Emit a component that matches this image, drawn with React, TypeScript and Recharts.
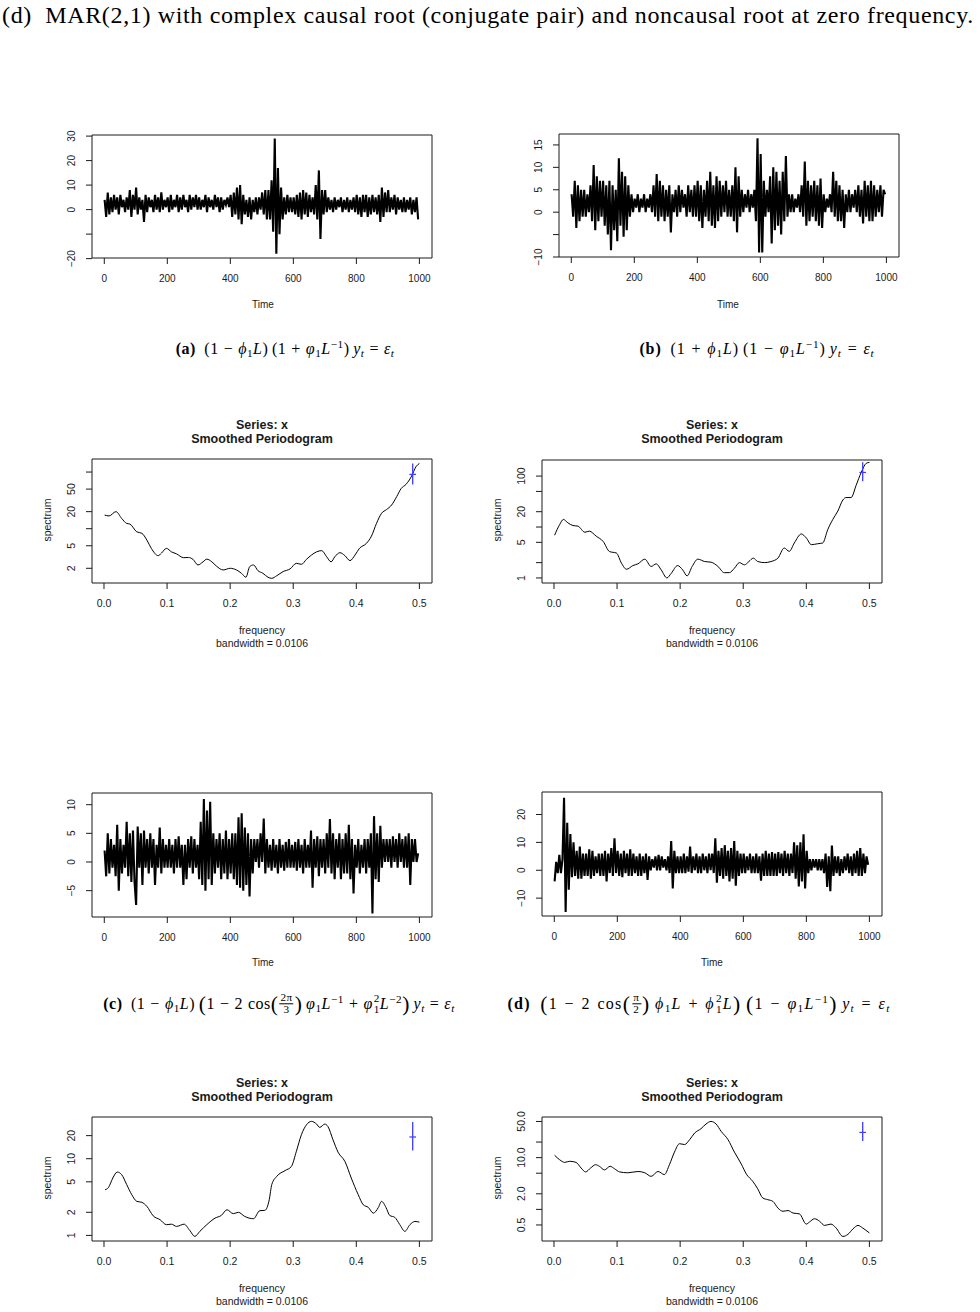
import React from 'react';
import { LineChart, Line, XAxis, YAxis, ReferenceArea, ReferenceLine } from 'recharts';

// ---- simulated paths, one value every STEP time units starting at t = 1 ----
const STEP = 5;

const seriesA = [
  4, -3, 7, -2, 5, -1, 6, 0, 5, -2, 6, 1, 4, -1, 5, 0, 8, -3, 6, 0,
  9, -2, 5, 0, 4, -5, 6, -1, 5, 1, 4, -1, 6, 0, 5, -1, 7, 0, 4, 1,
  5, -1, 6, 0, 4, 1, 6, -1, 5, 0, 6, 1, 4, -1, 6, 0, 5, 1, 6, 0,
  5, 0, 4, 1, 6, -1, 5, 1, 4, 0, 6, 1, 5, -1, 5, 0, 4, 2, 5, 1,
  6, -3, 7, -2, 9, -4, 10, -6, 6, -2, 4, -3, 5, -4, 4, -1, 5, -2, 5, 0,
  7, -2, 8, -4, 8, -4, 12, -9, 29, -18, 17, -10, 9, -4, 5, -2, 6, -1, 5, -1,
  5, -2, 6, -3, 7, -4, 8, -2, 7, -3, 6, -1, 5, -2, 10, -4, 16, -12, 8, -2,
  8, -1, 5, 0, 4, -1, 5, 0, 4, 1, 5, -1, 4, 0, 5, -1, 4, 0, 5, -1,
  6, -2, 5, -3, 6, -1, 6, -3, 5, -2, 6, -1, 5, -2, 6, -5, 9, -3, 7, -1,
  8, -1, 5, 0, 6, -2, 5, 0, 4, -1, 5, -1, 4, 0, 5, -2, 4, -1, 5, -4,
];

const seriesB = [
  4, -1, 7, -3.5, 6, -2, 5, -1, 5, -1, 4, 0, 6, -2, 10.5, -4, 8, -2, 7, -1,
  7, -3, 6, -5, 7, -8.5, 6, -4, 5, -6.5, 12, -3, 9, -5.5, 8, -4, 6, -1, 4, 0,
  3, 1, 4, 0, 3, 1, 4, 0, 3, 1, 4, 0, 6, -1, 8.5, -2, 7, -1, 6, -2,
  5, -1, 6, -4.5, 4, 0, 5, -1, 6, 0, 5, 1, 4, -1, 6, 0, 5, -1, 6, -1,
  7, -2, 6, -3.5, 5, -1, 7, -2, 9, -3, 6, -3.5, 8, -2, 7, -1, 6, 0, 7, -1,
  5, -1, 6, -2, 10, -4.5, 8, -1, 5, 0, 4, 1, 5, 0, 4, 1, 5, -2, 16.5, -9,
  13, -9, 7, -1, 5, 0, 8, -7, 10, -4, 9, -3, 7, -5, 9, -2, 12.5, -1, 4, 0,
  4, 0, 3, 1, 4, 0, 6, -1, 11.3, -3, 7, -2, 6, -1, 7, -2, 6, -3, 7.5, -3.5,
  4, 0, 3, 1, 4, 0, 9, -1, 7, -2, 6, -2, 5, -3.5, 4, 0, 5, 0, 4, 1,
  5, 0, 6, -1, 5, -2.5, 7, -1, 6, -2, 7, -2, 6, -1, 5, 0, 6, -1, 5, 4,
];

const seriesC = [
  2, -2.5, 5, -2, 4, -1, 3, -2.5, 6.5, -5, 4, -2, 3, -1, 7, -2.5, 5, -3.5, 5.5, -3.5,
  -7.5, 6.2, -1, 5, -4, 5.5, -1, 4, -2, 5, -1, 4, -4, 3, -1, 6, -2, 4, -1, 3,
  -1, 4, -1, 3, -2, 4, -1, 4.5, -1, 3, -4, 3, -3, 4, -1, 4.5, -2, 4, -1, 3,
  -3, 7, -4, 11, -5, 9, -3, 10.5, -4, 5, -2, 4, -1, 5, -3, 4, -2, 5.5, -3, 4,
  -2, 5, -3, 5, -4, 7.8, -4.5, 8.5, -5, 6, -4, 5, -6, 4, -2, 4, 0, 4, -1, 5,
  0, 7.6, -2, 4, -1, 3, -1.5, 4, -1, 3, -2, 4, -1, 3, -1.5, 3.5, -1, 4, -1, 3,
  -1, 3.5, -1.5, 4, -1, 3, -2, 4, -1, 3, -1, 5.5, -4.5, 4, -1, 4.5, -2.5, 4, -1, 4,
  -2, 5, -1, 7.5, -2, 5, -3, 4, -1, 5, -3, 4, -2, 5, -2, 6.5, -3, 4, -5.5, 3,
  -1, 4, -2, 3, -1, 4, -2, 4, -1, 5, -9, 8, -3, 5, -3.5, 6.3, -1, 4, 0, 4,
  0, 4, -1, 4.5, 0, 4, -1, 5, 0, 4, -1, 4.5, -1, 5, -4, 4, 0, 4, 0, 1.5,
];

const seriesD = [
  -4, 3, -1, 5.5, -1, 4, 26, -15, 17, -7, 13, -2.5, 10, -2, 7, -3, 8.5, -3, 6, -2,
  6, -2, 7.5, -3, 7, -2, 5, -1, 6, -2, 6, -2, 7, -4, 6, -1, 8, -2, 11.5, -1,
  7, -2, 6, -2.5, 7, -1, 6, -2, 7.5, -2, 6, -1, 5, -2, 6, -2, 5, -1, 6, -3.5,
  5, 0, 4, 1, 5, 0, 5.5, 0, 5, 1, 4, 0, 5, -1, 10.5, -6.5, 7, -1, 5, -1,
  5, -1, 6, -1, 5, -0.5, 8.5, -1, 5, 0, 6, -1, 5, -1, 6, 0, 5, -1, 6, 0,
  6, -1, 11.5, -4.5, 7, -2, 8, -3, 9, -2, 7, -4, 8, -3, 10.5, -5.5, 7, -2, 6, -1,
  6, -1, 5, 0, 6, -1, 5, -1, 6, -1, 5, -3.7, 6, -2, 7, -2, 6, -2, 6.5, -2,
  6, -2, 6.5, -1, 6, -2, 7, -1, 6, -2, 6, -1, 10, -3, 9, -5.8, 10, -4, 12.9, -6.5,
  7, -1, 4, 0, 4, 1, 4, 0, 4, 0, 4, -1, 6, -6, 5, -7.5, 8.9, -2, 5, -1,
  5, -2, 4, -1, 5, 0, 6, -1, 5, -2, 6, -1, 7, -2, 8, -2, 6, -1, 5, 2,
];

// ---- smoothed periodograms ----
const freqA = [
  0.001, 0.008, 0.019, 0.028, 0.036, 0.041, 0.052, 0.06, 0.068, 0.075,
  0.086, 0.091, 0.099, 0.107, 0.115, 0.126, 0.134, 0.141, 0.149, 0.157,
  0.163, 0.171, 0.178, 0.189, 0.2, 0.21, 0.218, 0.225, 0.231, 0.237,
  0.244, 0.252, 0.26, 0.266, 0.274, 0.284, 0.295, 0.305, 0.313, 0.321,
  0.329, 0.337, 0.345, 0.353, 0.36, 0.366, 0.374, 0.382, 0.39, 0.398,
  0.405, 0.416, 0.424, 0.432, 0.44, 0.448, 0.456, 0.464, 0.471, 0.479,
  0.487, 0.495, 0.5,
];
const specA = [
  17.4, 16.8, 20, 15.2, 12.4, 12.1, 8.8, 8.3, 6.3, 4.5,
  3.34, 3.7, 4.5, 3.9, 3.6, 3.08, 3.1, 2.88, 2.29, 2.6,
  2.9, 2.6, 2.2, 1.87, 2.0, 1.87, 1.63, 1.39, 2.14, 2.29,
  1.82, 1.63, 1.39, 1.33, 1.48, 1.75, 1.95, 2.45, 2.35, 2.88,
  3.43, 3.9, 4.1, 3.2, 2.6, 3.2, 3.77, 3.34, 2.73, 3.43,
  4.5, 5.5, 7.4, 12.4, 18.7, 21.8, 26.2, 36.8, 51, 61,
  82, 126, 142,
];

const freqB = [
  0.001, 0.009, 0.015, 0.022, 0.03, 0.038, 0.049, 0.056, 0.067, 0.078,
  0.088, 0.099, 0.107, 0.115, 0.125, 0.133, 0.144, 0.154, 0.162, 0.17,
  0.179, 0.186, 0.196, 0.204, 0.211, 0.219, 0.228, 0.239, 0.249, 0.26,
  0.27, 0.278, 0.286, 0.294, 0.302, 0.309, 0.316, 0.323, 0.334, 0.344,
  0.355, 0.365, 0.373, 0.381, 0.392, 0.4, 0.408, 0.418, 0.426, 0.434,
  0.442, 0.45, 0.458, 0.463, 0.471, 0.479, 0.487, 0.495, 0.5,
];
const specB = [
  6.9, 11.2, 14.1, 12.1, 10.7, 10.4, 7.9, 8.3, 6.6, 5.2,
  3.3, 3.08, 1.95, 1.48, 1.75, 1.89, 2.34, 1.68, 1.89, 1.44,
  1.0, 1.24, 1.75, 1.44, 1.1, 1.68, 2.34, 2.1, 2.04, 1.68,
  1.27, 1.27, 1.55, 2.0, 1.81, 2.1, 2.45, 2.1, 2.0, 2.1,
  2.45, 3.87, 3.33, 4.86, 7.3, 6.1, 4.5, 4.7, 4.86, 8.9,
  14.1, 20.6, 34, 37.9, 37.9, 66, 118, 178, 186,
];

const freqC = [
  0.0016, 0.007, 0.014, 0.021, 0.028, 0.036, 0.044, 0.052, 0.06, 0.068,
  0.078, 0.089, 0.099, 0.107, 0.115, 0.127, 0.136, 0.144, 0.152, 0.163,
  0.176, 0.186, 0.195, 0.205, 0.213, 0.223, 0.237, 0.247, 0.255, 0.262,
  0.266, 0.274, 0.287, 0.297, 0.305, 0.313, 0.321, 0.329, 0.337, 0.342,
  0.35, 0.355, 0.363, 0.371, 0.382, 0.392, 0.403, 0.411, 0.419, 0.427,
  0.435, 0.44, 0.447, 0.453, 0.461, 0.469, 0.477, 0.485, 0.493, 0.5,
];
const specC = [
  3.94, 4.2, 5.6, 6.7, 6.2, 4.6, 3.4, 2.78, 2.7, 2.39,
  1.8, 1.6, 1.38, 1.4, 1.31, 1.4, 1.16, 0.97, 1.13, 1.38,
  1.68, 1.82, 2.16, 1.92, 2.0, 1.77, 1.65, 2.1, 2.12, 2.92,
  4.6, 5.9, 7.0, 7.9, 12.5, 20.6, 27.7, 30.7, 28.3, 25.6,
  28.3, 26.3, 17.7, 12.2, 9.2, 5.6, 3.4, 2.51, 2.32, 1.95,
  2.32, 2.78, 2.32, 1.82, 1.72, 1.38, 1.13, 1.38, 1.52, 1.49,
];

const freqD = [
  0.001, 0.009, 0.017, 0.025, 0.035, 0.043, 0.05, 0.058, 0.066, 0.072,
  0.08, 0.089, 0.096, 0.104, 0.117, 0.133, 0.144, 0.154, 0.165, 0.175,
  0.183, 0.191, 0.199, 0.207, 0.215, 0.223, 0.233, 0.241, 0.249, 0.257,
  0.265, 0.276, 0.286, 0.297, 0.305, 0.315, 0.323, 0.331, 0.339, 0.347,
  0.355, 0.363, 0.371, 0.379, 0.389, 0.4, 0.405, 0.413, 0.421, 0.429,
  0.439, 0.447, 0.458, 0.466, 0.474, 0.482, 0.489, 0.5,
];
const specD = [
  11.1, 9.1, 8.1, 8.5, 8.1, 6.3, 5.3, 6.3, 7.3, 6.8,
  5.8, 6.8, 6.1, 5.3, 5.1, 5.4, 5.1, 4.35, 5.4, 4.7,
  7.3, 12.8, 18.6, 17.9, 22.2, 29.9, 36.2, 44.6, 50.1, 44.6,
  32.2, 22.2, 12.8, 7.5, 4.8, 3.5, 2.5, 1.66, 1.54, 1.43,
  1.06, 0.92, 0.95, 0.85, 0.82, 0.52, 0.57, 0.66, 0.59, 0.49,
  0.52, 0.44, 0.3, 0.33, 0.42, 0.49, 0.44, 0.35,
];

// confidence cross (bandwidth wide, 95% interval tall)
const BANDWIDTH = 0.0106;
const ciA = { f: 0.4894, mid: 91, lo: 60, hi: 142 };
const ciB = { f: 0.4894, mid: 118, lo: 79.6, hi: 186 };
const ciC = { f: 0.4894, mid: 19.2, lo: 12.8, hi: 30.1 };
const ciD = { f: 0.4894, mid: 30.7, lo: 20.9, hi: 48.7 };

// ---- ticks ----
const timeTicks = [0, 200, 400, 600, 800, 1000];
const freqTicks = [0, 0.1, 0.2, 0.3, 0.4, 0.5];

const yTicksA = [-20, -10, 0, 10, 20, 30];
const yLabelsA = [-20, 0, 10, 20, 30];
const yTicksB = [-10, -5, 0, 5, 10, 15];
const yLabelsB = [-10, 0, 5, 10, 15];
const yTicksC = [-5, 0, 5, 10];
const yTicksD = [-10, 0, 10, 20];

const sTicksA = [2, 5, 10, 20, 50, 100];
const sLabelsA = [2, 5, 20, 50];
const sTicksB = [1, 2, 5, 10, 20, 50, 100];
const sLabelsB = [1, 5, 20, 100];
const sTicksC = [1, 2, 5, 10, 20];
const sTicksD = [0.5, 1, 2, 5, 10, 20, 50];
const sLabelsD = [0.5, 2, 10, 50];

const TIME_DOMAIN = [-39, 1040];
const FREQ_DOMAIN = [-0.019, 0.52];

// ---- styling ----
const SANS = '"Liberation Sans", Arial, Helvetica, sans-serif';
const SERIF = '"Liberation Serif", "DejaVu Serif", serif';
const INK = '#1a1a1a';
const CI_BLUE = '#3c3cff';
const ML = 60;
const MT = 10;
const MR = 10;
const MB = 40;

type Box = { left: number; top: number; w: number; h: number };

const fmt = (v: number, digits: number) => v.toFixed(digits).replace('-', '\u2212');

function XTick(props: any) {
  const { x, y, payload, digits, size } = props;
  return (
    <g>
      <line x1={x} x2={x} y1={y} y2={y + 6} stroke={INK} />
      <text x={x} y={y + 24} textAnchor="middle" fontSize={size} fontFamily={SANS} fill={INK}>
        {fmt(payload.value, digits)}
      </text>
    </g>
  );
}

function YTick(props: any) {
  const { x, y, payload, labels, digits, size } = props;
  const show = !labels || labels.some((l: number) => Math.abs(l - payload.value) < 1e-9);
  const tx = x - 17;
  return (
    <g>
      <line x1={x} x2={x - 6} y1={y} y2={y} stroke={INK} />
      {show && (
        <text
          x={tx}
          y={y}
          transform={`rotate(-90 ${tx} ${y})`}
          textAnchor="middle"
          fontSize={size}
          fontFamily={SANS}
          fill={INK}
        >
          {fmt(payload.value, digits)}
        </text>
      )}
    </g>
  );
}

function TimePanel(props: {
  box: Box;
  values: number[];
  yDomain: number[];
  yTicks: number[];
  yLabels?: number[];
}) {
  const { box, values, yDomain, yTicks, yLabels } = props;
  const data = values.map((v, i) => ({ t: 1 + i * STEP, v }));
  return (
    <div style={{ position: 'absolute', left: box.left - ML, top: box.top - MT }}>
      <LineChart
        width={box.w + ML + MR}
        height={box.h + MT + MB}
        data={data}
        margin={{ top: MT, right: MR, bottom: 0, left: 0 }}
      >
        <XAxis
          type="number"
          dataKey="t"
          domain={TIME_DOMAIN}
          allowDataOverflow
          ticks={timeTicks}
          interval={0}
          axisLine={false}
          tickLine={false}
          tickSize={0}
          tickMargin={0}
          height={MB}
          tick={(p: any) => <XTick {...p} digits={0} size={10} />}
        />
        <YAxis
          type="number"
          domain={yDomain}
          allowDataOverflow
          ticks={yTicks}
          interval={0}
          axisLine={false}
          tickLine={false}
          tickSize={0}
          tickMargin={0}
          width={ML}
          tick={(p: any) => <YTick {...p} labels={yLabels} digits={0} size={10} />}
        />
        <Line dataKey="v" type="linear" stroke="#000" strokeWidth={2.1} strokeLinejoin="miter" dot={false} isAnimationActive={false} />
        <ReferenceArea
          x1={TIME_DOMAIN[0]}
          x2={TIME_DOMAIN[1]}
          y1={yDomain[0]}
          y2={yDomain[1]}
          fill="none"
          stroke={INK}
          strokeWidth={1}
          ifOverflow="visible"
        />
      </LineChart>
    </div>
  );
}

function SpecPanel(props: {
  box: Box;
  freq: number[];
  spec: number[];
  yDomain: number[];
  yTicks: number[];
  yLabels?: number[];
  yDigits: number;
  ci: { f: number; mid: number; lo: number; hi: number };
}) {
  const { box, freq, spec, yDomain, yTicks, yLabels, yDigits, ci } = props;
  const data = freq.map((f, i) => ({ f, s: spec[i] }));
  return (
    <div style={{ position: 'absolute', left: box.left - ML, top: box.top - MT }}>
      <LineChart
        width={box.w + ML + MR}
        height={box.h + MT + MB}
        data={data}
        margin={{ top: MT, right: MR, bottom: 0, left: 0 }}
      >
        <XAxis
          type="number"
          dataKey="f"
          domain={FREQ_DOMAIN}
          allowDataOverflow
          ticks={freqTicks}
          interval={0}
          axisLine={false}
          tickLine={false}
          tickSize={0}
          tickMargin={0}
          height={MB}
          tick={(p: any) => <XTick {...p} digits={1} size={10.5} />}
        />
        <YAxis
          type="number"
          scale="log"
          domain={yDomain}
          allowDataOverflow
          ticks={yTicks}
          interval={0}
          axisLine={false}
          tickLine={false}
          tickSize={0}
          tickMargin={0}
          width={ML}
          tick={(p: any) => <YTick {...p} labels={yLabels} digits={yDigits} size={10.5} />}
        />
        <Line dataKey="s" type="monotone" stroke="#000" strokeWidth={1} dot={false} isAnimationActive={false} />
        <ReferenceLine
          segment={[{ x: ci.f, y: ci.lo }, { x: ci.f, y: ci.hi }]}
          stroke={CI_BLUE}
          strokeWidth={1.3}
        />
        <ReferenceLine
          segment={[{ x: ci.f - BANDWIDTH / 2, y: ci.mid }, { x: ci.f + BANDWIDTH / 2, y: ci.mid }]}
          stroke={CI_BLUE}
          strokeWidth={1.2}
        />
        <ReferenceArea
          x1={FREQ_DOMAIN[0]}
          x2={FREQ_DOMAIN[1]}
          y1={yDomain[0]}
          y2={yDomain[1]}
          fill="none"
          stroke={INK}
          strokeWidth={1}
          ifOverflow="visible"
        />
      </LineChart>
    </div>
  );
}

function Txt(props: { x: number; y: number; size: number; bold?: boolean; rotate?: boolean; children: React.ReactNode }) {
  const { x, y, size, bold, rotate, children } = props;
  return (
    <div
      style={{
        position: 'absolute',
        left: x,
        top: y,
        transform: `translate(-50%, -50%)${rotate ? ' rotate(-90deg)' : ''}`,
        fontFamily: SANS,
        fontSize: size,
        fontWeight: bold ? 700 : 400,
        color: INK,
        whiteSpace: 'nowrap',
        lineHeight: 1,
      }}
    >
      {children}
    </div>
  );
}

function SpecText({ cx, bx, top }: { cx: number; bx: number; top: number }) {
  // titles above the box, axis captions below it
  return (
    <>
      <Txt x={cx} y={top - 34} size={12.5} bold>Series: x</Txt>
      <Txt x={cx} y={top - 20} size={12.5} bold>Smoothed Periodogram</Txt>
      <Txt x={cx} y={top + 171} size={10.5}>frequency</Txt>
      <Txt x={cx} y={top + 184} size={10.5}>bandwidth = 0.0106</Txt>
      <Txt x={bx} y={top + 61} size={10.5} rotate>spectrum</Txt>
    </>
  );
}

const Sub = ({ children }: { children: React.ReactNode }) => (
  <span style={{ fontSize: '0.7em', verticalAlign: '-0.3em', lineHeight: 0 }}>{children}</span>
);
const Sup = ({ children }: { children: React.ReactNode }) => (
  <span style={{ fontSize: '0.7em', verticalAlign: '0.55em', lineHeight: 0 }}>{children}</span>
);
// stacked superscript over subscript (first row sets the baseline)
const SupSub = ({ sup, sub }: { sup: string; sub: string }) => (
  <span
    style={{
      display: 'inline-flex',
      flexDirection: 'column',
      fontSize: '0.7em',
      lineHeight: 0.95,
      verticalAlign: '0.6em',
      marginLeft: 1,
    }}
  >
    <span>{sup}</span>
    <span>{sub}</span>
  </span>
);
const Frac = ({ n, d }: { n: string; d: string }) => (
  <span
    style={{
      display: 'inline-flex',
      flexDirection: 'column',
      alignItems: 'center',
      fontSize: '0.7em',
      lineHeight: 1,
      verticalAlign: '0.7em',
      margin: '0 1px',
    }}
  >
    <span style={{ borderBottom: '1px solid #000', padding: '0 1px' }}>{n}</span>
    <span>{d}</span>
  </span>
);
const Big = ({ c }: { c: string }) => (
  <span style={{ fontSize: '1.35em', verticalAlign: '-0.08em', lineHeight: 0 }}>{c}</span>
);

function Caption({ x, y, spacing = 0.5, children }: { x: number; y: number; spacing?: number; children: React.ReactNode }) {
  return (
    <div
      style={{
        position: 'absolute',
        left: x,
        top: y,
        transform: 'translate(-50%, -50%)',
        fontFamily: SERIF,
        fontSize: 16,
        letterSpacing: spacing,
        wordSpacing: spacing,
        whiteSpace: 'nowrap',
        lineHeight: 1,
        color: '#000',
      }}
    >
      {children}
    </div>
  );
}

const boxTsA: Box = { left: 92, top: 134.5, w: 340, h: 123 };
const boxTsB: Box = { left: 558.5, top: 134, w: 340, h: 123 };
const boxSpA: Box = { left: 92, top: 459, w: 340, h: 124 };
const boxSpB: Box = { left: 542.3, top: 460, w: 340, h: 123 };
const boxTsC: Box = { left: 92, top: 792.5, w: 340, h: 124 };
const boxTsD: Box = { left: 542.3, top: 792, w: 340, h: 124 };
const boxSpC: Box = { left: 92, top: 1117.3, w: 340, h: 124 };
const boxSpD: Box = { left: 542.3, top: 1117.3, w: 340, h: 124 };

export default function App() {
  return (
    <div style={{ position: 'absolute', left: 0, top: 0, width: 980, height: 1312, background: '#fff', overflow: 'hidden' }}>
      <div
        style={{
          position: 'absolute',
          left: 2,
          top: 3,
          fontFamily: SERIF,
          fontSize: 24,
          letterSpacing: 0.65,
          lineHeight: 1,
          whiteSpace: 'nowrap',
          color: '#000',
        }}
      >
        (d)&nbsp; MAR(2,1) with complex causal root (conjugate pair) and noncausal root at zero frequency.
      </div>

      <TimePanel box={boxTsA} values={seriesA} yDomain={[-19.75, 30.45]} yTicks={yTicksA} yLabels={yLabelsA} />
      <TimePanel box={boxTsB} values={seriesB} yDomain={[-10, 17.44]} yTicks={yTicksB} yLabels={yLabelsB} />
      <Txt x={263} y={305} size={10}>Time</Txt>
      <Txt x={728} y={305} size={10}>Time</Txt>

      <Caption x={285} y={349}>
        <b>(a)</b>&ensp;(1 − <i>ϕ</i><Sub>1</Sub><i>L</i>)&thinsp;(1 + <i>φ</i><Sub>1</Sub><i>L</i><Sup>−1</Sup>)&thinsp;<i>y</i><Sub><i>t</i></Sub> = <i>ε</i><Sub><i>t</i></Sub>
      </Caption>
      <Caption x={757} y={349} spacing={0.9}>
        <b>(b)</b>&ensp;(1 + <i>ϕ</i><Sub>1</Sub><i>L</i>)&thinsp;(1 − <i>φ</i><Sub>1</Sub><i>L</i><Sup>−1</Sup>)&thinsp;<i>y</i><Sub><i>t</i></Sub> = <i>ε</i><Sub><i>t</i></Sub>
      </Caption>

      <SpecPanel box={boxSpA} freq={freqA} spec={specA} yDomain={[1.1, 170]} yTicks={sTicksA} yLabels={sLabelsA} yDigits={0} ci={ciA} />
      <SpecPanel box={boxSpB} freq={freqB} spec={specB} yDomain={[0.796, 207]} yTicks={sTicksB} yLabels={sLabelsB} yDigits={0} ci={ciB} />
      <SpecText cx={262} bx={47} top={459} />
      <SpecText cx={712} bx={497} top={459} />

      <TimePanel box={boxTsC} values={seriesC} yDomain={[-9.6, 12.04]} yTicks={yTicksC} />
      <TimePanel box={boxTsD} values={seriesD} yDomain={[-16.4, 28.07]} yTicks={yTicksD} />
      <Txt x={263} y={963} size={10}>Time</Txt>
      <Txt x={712} y={963} size={10}>Time</Txt>

      <Caption x={279} y={1004}>
        <b>(c)</b>&ensp;(1 − <i>ϕ</i><Sub>1</Sub><i>L</i>)&thinsp;<Big c="(" />1 − 2 cos<Big c="(" /><Frac n="2π" d="3" /><Big c=")" />&thinsp;<i>φ</i><Sub>1</Sub><i>L</i><Sup>−1</Sup> + <i>φ</i><SupSub sup="2" sub="1" /><i>L</i><Sup>−2</Sup><Big c=")" />&thinsp;<i>y</i><Sub><i>t</i></Sub> = <i>ε</i><Sub><i>t</i></Sub>
      </Caption>
      <Caption x={699} y={1004} spacing={1.3}>
        <b>(d)</b>&ensp;<Big c="(" />1 − 2 cos<Big c="(" /><Frac n="π" d="2" /><Big c=")" />&thinsp;<i>ϕ</i><Sub>1</Sub><i>L</i> + <i>ϕ</i><SupSub sup="2" sub="1" /><i>L</i><Big c=")" />&thinsp;<Big c="(" />1 − <i>φ</i><Sub>1</Sub><i>L</i><Sup>−1</Sup><Big c=")" />&thinsp;<i>y</i><Sub><i>t</i></Sub> = <i>ε</i><Sub><i>t</i></Sub>
      </Caption>

      <SpecPanel box={boxSpC} freq={freqC} spec={specC} yDomain={[0.845, 35]} yTicks={sTicksC} yDigits={0} ci={ciC} />
      <SpecPanel box={boxSpD} freq={freqD} spec={specD} yDomain={[0.245, 61]} yTicks={sTicksD} yLabels={sLabelsD} yDigits={1} ci={ciD} />
      <SpecText cx={262} bx={47} top={1117} />
      <SpecText cx={712} bx={497} top={1117} />
    </div>
  );
}
